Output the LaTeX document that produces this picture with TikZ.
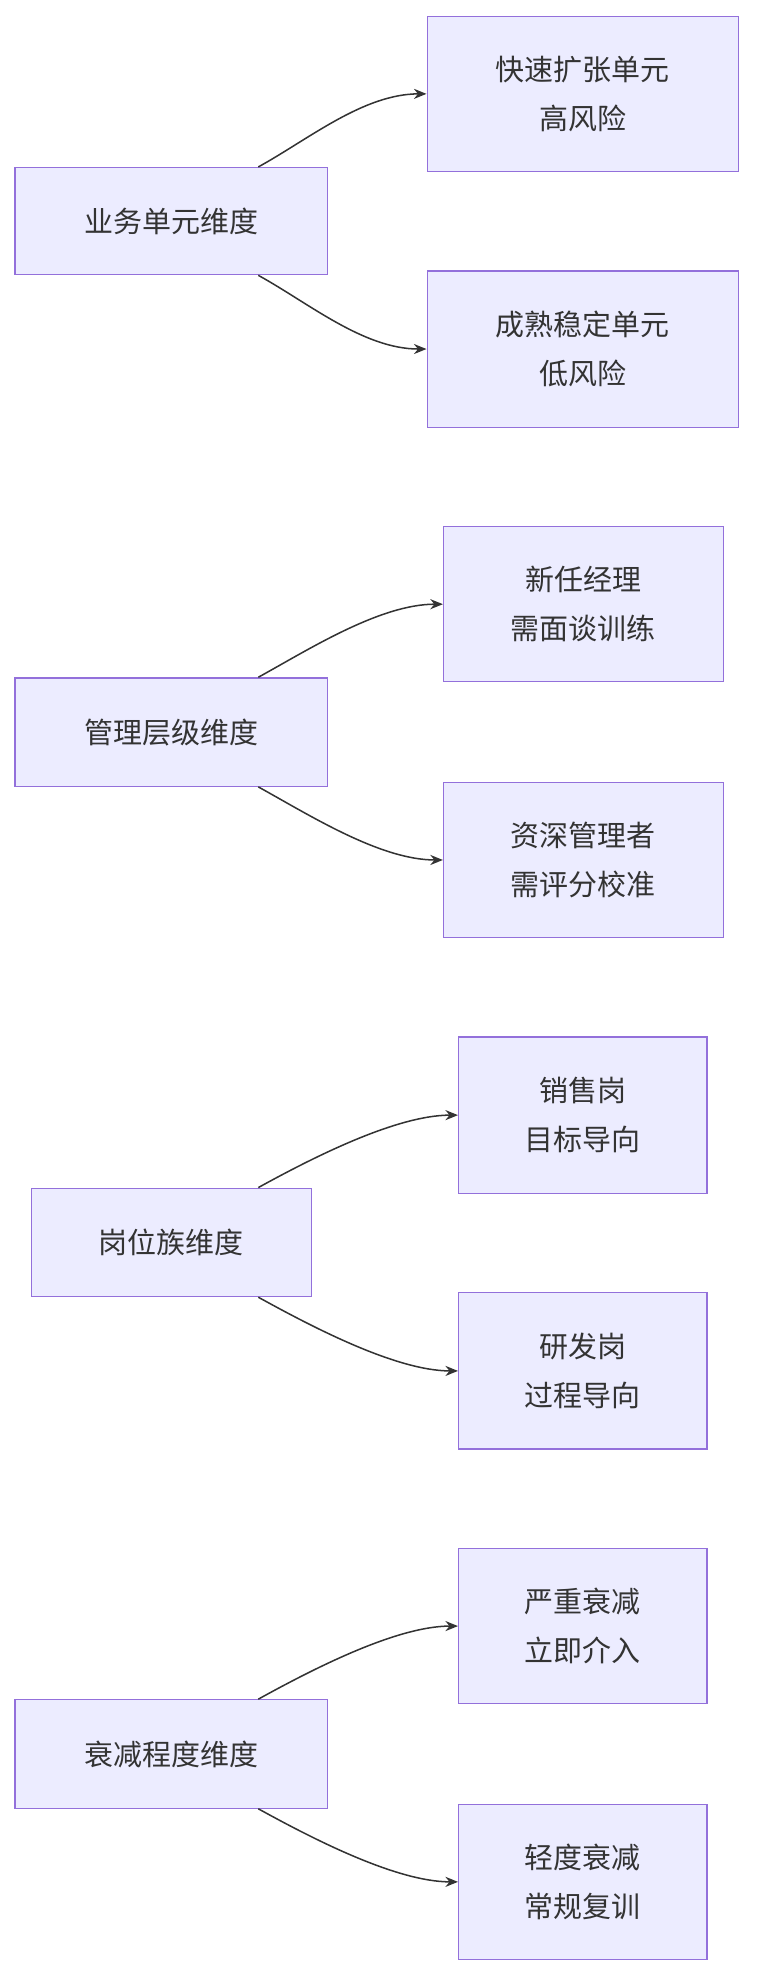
\documentclass[tikz,border=0pt]{standalone}
\usepackage{fontspec}
\setmainfont{Noto Sans CJK SC}
\usetikzlibrary{arrows.meta}
\definecolor{bfill}{HTML}{ECECFF}
\definecolor{bdraw}{HTML}{9370DB}
\definecolor{ln}{HTML}{333333}
\begin{document}
\begin{tikzpicture}[x=1pt,y=-1pt,
 box/.style={draw=bdraw,fill=bfill,line width=1pt,align=center,font=\fontsize{23}{39}\selectfont,text=ln,inner sep=0pt},
 e/.style={draw=ln,line width=1.2pt,-{Stealth[length=10pt,width=8pt]}}]
\useasboundingbox (0,0) rectangle (600,1571.4);
\newcommand{\bx}[6]{\node[box,minimum width=#4-#2,minimum height=#5-#3] (#1) at ({(#2+#4)/2},{(#3+#5)/2}) {#6};}
\bx{a}{12}{133}{260}{218}{业务单元维度}
\bx{a1}{339}{13}{586}{136}{快速扩张单元\\高风险}
\bx{a2}{339}{215}{586}{339}{成熟稳定单元\\低风险}
\bx{b}{12}{538}{260}{624}{管理层级维度}
\bx{b1}{352}{418}{574}{541}{新任经理\\需面谈训练}
\bx{b2}{352}{621}{574}{744}{资深管理者\\需评分校准}
\bx{c}{25}{943}{247}{1029}{岗位族维度}
\bx{c1}{364}{823}{561}{947}{销售岗\\目标导向}
\bx{c2}{364}{1026}{561}{1150}{研发岗\\过程导向}
\bx{d}{12}{1349}{260}{1435}{衰减程度维度}
\bx{d1}{364}{1229}{561}{1352}{严重衰减\\立即介入}
\bx{d2}{364}{1432}{561}{1555}{轻度衰减\\常规复训}
\foreach \p/\dy in {a/0,b/405,c/810,d/1216}{
 \draw[e] ([xshift={205-136}]\p.north) .. controls +(40,-22) and +(-50,0) .. (\p1.west);
 \draw[e] ([xshift={205-136}]\p.south) .. controls +(40,22) and +(-50,0) .. (\p2.west);
}
\end{tikzpicture}
\end{document}
